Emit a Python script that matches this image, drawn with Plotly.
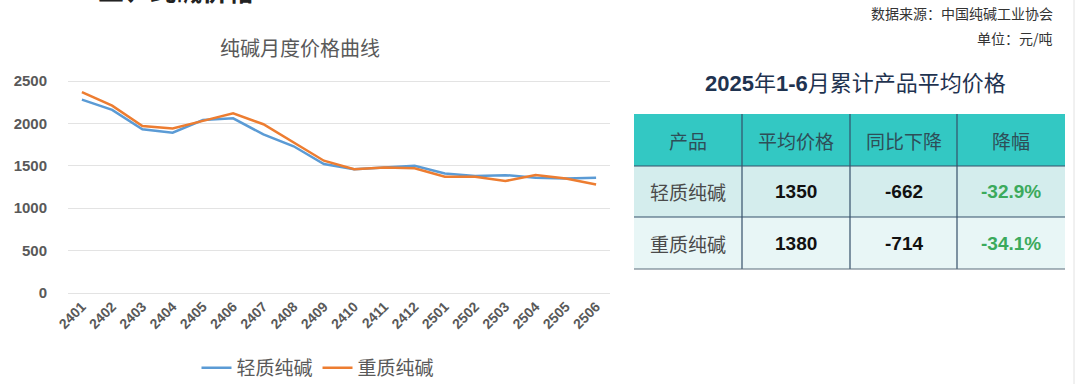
import plotly.graph_objects as go

months = ["2401","2402","2403","2404","2405","2406","2407","2408","2409",
          "2410","2411","2412","2501","2502","2503","2504","2505","2506"]
light_ash = [2280, 2160, 1930, 1890, 2040, 2060, 1870, 1730, 1520,
             1460, 1480, 1500, 1410, 1380, 1390, 1360, 1350, 1360]
dense_ash = [2370, 2210, 1970, 1940, 2030, 2120, 1990, 1780, 1560,
             1460, 1480, 1470, 1370, 1370, 1320, 1390, 1350, 1280]
y_ticks = [0, 500, 1000, 1500, 2000, 2500]

table_header = ["产品", "平均价格", "同比下降", "降幅"]
products = ["轻质纯碱", "重质纯碱"]
avg_price = [1350, 1380]
yoy_drop = [-662, -714]
drop_pct = ["-32.9%", "-34.1%"]

W, H = 1080, 384
CJK = "Noto Sans CJK SC"
NUM = "Liberation Sans, Arial, Noto Sans CJK SC"
GRAY = "#595959"


def px(x):
    return x / W


def py(y):
    return (H - y) / H


fig = go.Figure()
fig.add_trace(go.Scatter(x=months, y=light_ash, mode="lines", name="轻质纯碱",
                         line=dict(color="#5B9BD5", width=2.5)))
fig.add_trace(go.Scatter(x=months, y=dense_ash, mode="lines", name="重质纯碱",
                         line=dict(color="#ED7D31", width=2.5)))

# ---- table (shapes + annotations) ----
col_edges = [634, 742, 850, 957, 1065]
row_edges = [114, 166, 217, 269]
row_fills = ["#33C8C3", "#D4EDED", "#E8F6F6"]
rows = [table_header,
        [products[0], "<b>%d</b>" % avg_price[0], "<b>%d</b>" % yoy_drop[0], "<b>%s</b>" % drop_pct[0]],
        [products[1], "<b>%d</b>" % avg_price[1], "<b>%d</b>" % yoy_drop[1], "<b>%s</b>" % drop_pct[1]]]
shapes = []
annotations = []
for r in range(3):
    shapes.append(dict(type="rect", xref="paper", yref="paper",
                       x0=px(col_edges[0]), x1=px(col_edges[-1]),
                       y0=py(row_edges[r + 1]), y1=py(row_edges[r]),
                       fillcolor=row_fills[r], line=dict(width=0), layer="below"))
    for c in range(4):
        if r == 0:
            color, fam = "#2E4E58", CJK
        elif c == 0:
            color, fam = "#4A4A4A", CJK
        elif c == 3:
            color, fam = "#3BAA5C", NUM
        else:
            color, fam = "#111111", NUM
        annotations.append(dict(text=rows[r][c],
                                x=px((col_edges[c] + col_edges[c + 1]) / 2),
                                y=py((row_edges[r] + row_edges[r + 1]) / 2),
                                xref="paper", yref="paper", xanchor="center", yanchor="middle",
                                showarrow=False, font=dict(family=fam, size=19, color=color)))
for xe in col_edges[1:-1]:
    shapes.append(dict(type="line", xref="paper", yref="paper", x0=px(xe), x1=px(xe),
                       y0=py(row_edges[-1]), y1=py(row_edges[0]),
                       line=dict(color="#34506A", width=1.2)))
for ye in row_edges[1:]:
    shapes.append(dict(type="line", xref="paper", yref="paper", x0=px(col_edges[0]), x1=px(col_edges[-1]),
                       y0=py(ye), y1=py(ye),
                       line=dict(color="#34506A" if ye != row_edges[-1] else "#5A6C7A", width=1.2)))
shapes.append(dict(type="line", xref="paper", yref="paper", x0=px(1074), x1=px(1074),
                   y0=0, y1=1, line=dict(color="#E2E2E2", width=1)))

annotations += [
    dict(text="纯碱月度价格曲线", x=px(300), y=py(47), xref="paper", yref="paper",
         xanchor="center", yanchor="middle", showarrow=False,
         font=dict(family=CJK, size=20, color=GRAY)),
    dict(text="二、纯碱价格", x=px(96), y=py(-11), xref="paper", yref="paper",
         xanchor="left", yanchor="middle", showarrow=False,
         font=dict(family=CJK, size=26, color="#222222", weight="bold")),
    dict(text="数据来源：中国纯碱工业协会", x=px(1055), y=py(13), xref="paper", yref="paper",
         xanchor="right", yanchor="middle", showarrow=False,
         font=dict(family=CJK, size=14, color="#333333")),
    dict(text="单位：元/吨", x=px(1055), y=py(38), xref="paper", yref="paper",
         xanchor="right", yanchor="middle", showarrow=False,
         font=dict(family=CJK, size=14, color="#333333")),
    dict(text="<b>2025</b>年<b>1-6</b>月累计产品平均价格", x=px(855), y=py(83),
         xref="paper", yref="paper", xanchor="center", yanchor="middle", showarrow=False,
         font=dict(family="Liberation Sans, Noto Sans CJK SC", size=22, color="#1F3350")),
]

fig.update_layout(
    width=W, height=H,
    margin=dict(l=0, r=0, t=0, b=0, autoexpand=False),
    paper_bgcolor="white", plot_bgcolor="white",
    showlegend=True,
    legend=dict(orientation="h", x=px(318), xanchor="center", y=py(368), yanchor="middle",
                font=dict(family=CJK, size=19, color=GRAY), itemwidth=30,
                bgcolor="rgba(0,0,0,0)"),
    xaxis=dict(domain=[px(68), px(610)], range=[-0.46, 17.46], tickangle=-45,
               showgrid=False, showline=False, ticks="", automargin=False,
               tickfont=dict(family=NUM, size=14, color=GRAY, weight="bold")),
    yaxis=dict(domain=[py(294.7), py(79.3)], range=[-20, 2520],
               tickvals=y_ticks, showgrid=True, gridcolor="#E3E3E3", gridwidth=1,
               zeroline=False, showline=False, ticks="", ticklabelstandoff=20,
               automargin=False,
               tickfont=dict(family=NUM, size=15, color=GRAY, weight="bold")),
    annotations=annotations,
    shapes=shapes,
)

fig.write_html("out.html",
               config={"displayModeBar": False},
               post_script="document.body.style.margin='0';document.body.style.padding='0';"
                           "document.body.style.overflow='hidden';"
                           "document.documentElement.style.overflow='hidden';")
